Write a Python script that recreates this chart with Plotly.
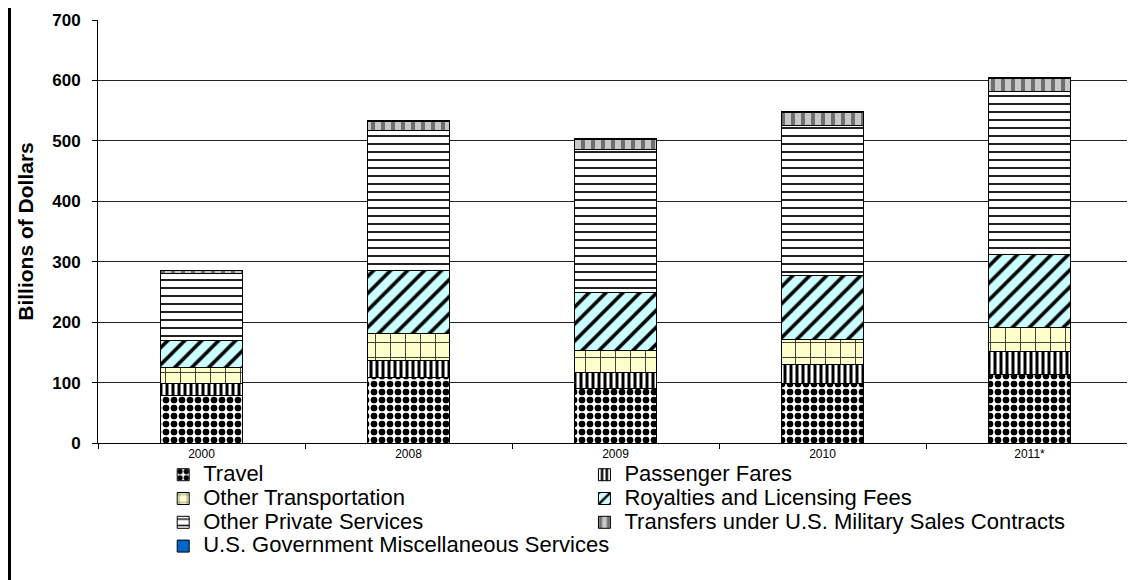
import plotly.graph_objects as go

years = ['2000', '2008', '2009', '2010', '2011*']

travel = [79, 108, 90, 99, 113]
passenger_fares = [20, 28, 26, 31, 38]
other_transport = [26, 46, 37, 42, 40]
royalties = [44, 103, 96, 105, 121]
other_private = [112, 232, 236, 249, 269]
military = [4, 15, 18, 21, 23]
govt_misc = [1, 1, 1, 1, 1]

# name, values, pattern, legend column
series = [
    ('Travel', travel, dict(shape='.', bgcolor='white', fgcolor='black', size=8, solidity=0.55), 'legend'),
    ('Passenger Fares', passenger_fares, dict(shape='|', bgcolor='white', fgcolor='black', size=6, solidity=0.5), 'legend2'),
    ('Other Transportation', other_transport, dict(shape='+', bgcolor='#FFFFCC', fgcolor='#333333', size=15, solidity=0.12), 'legend'),
    ('Royalties and Licensing Fees', royalties, dict(shape='/', bgcolor='#CCFFFF', fgcolor='black', size=12, solidity=0.3), 'legend2'),
    ('Other Private Services', other_private, dict(shape='-', bgcolor='white', fgcolor='#222222', size=8, solidity=0.25), 'legend'),
    ('Transfers under U.S. Military Sales Contracts', military, dict(shape='|', bgcolor='#C8C8C8', fgcolor='#6E6E6E', size=10, solidity=0.4), 'legend2'),
    ('U.S. Government Miscellaneous Services', govt_misc, dict(shape='', bgcolor='#0066CC', fgcolor='#0066CC'), 'legend'),
]

fig = go.Figure()
for name, vals, pat, leg in series:
    pat['fgopacity'] = 1
    fig.add_trace(go.Bar(
        x=years,
        y=vals,
        name="<span style='font-size:22px'>" + name + "</span>",
        legend=leg,
        marker=dict(color=pat['bgcolor'], pattern=pat,
                    line=dict(color='black', width=1)),
    ))

legend_style = dict(
    orientation='v',
    y=-0.035, yanchor='top',
    xanchor='left',
    font=dict(size=16),
    traceorder='normal',
    bgcolor='rgba(0,0,0,0)',
)

fig.update_layout(
    barmode='stack',
    bargap=0.6,
    width=1127,
    height=572,
    margin=dict(l=90, r=2, t=12, b=137),
    plot_bgcolor='white',
    paper_bgcolor='white',
    font=dict(family='Arial, Liberation Sans, sans-serif', color='black'),
    legend=dict(x=0.063, **legend_style),
    legend2=dict(x=0.470, **legend_style),
    xaxis=dict(
        automargin=False,
        showline=True, linecolor='black', linewidth=1,
        ticks='outside', tickson='boundaries', ticklen=5, tickcolor='black',
        tickfont=dict(size=12),
    ),
    yaxis=dict(
        automargin=False,
        range=[0, 700], dtick=100,
        showline=True, linecolor='black', linewidth=1,
        ticks='outside', ticklen=5, tickcolor='black',
        ticklabelstandoff=8,
        showgrid=True, gridcolor='#222222', gridwidth=1,
        tickfont=dict(size=17, weight='bold'),
        title=dict(text='<b>Billions of Dollars</b>', font=dict(size=21), standoff=12),
    ),
)

# thick frame line on the left edge
fig.add_shape(type='line', xref='paper', yref='paper',
              x0=-0.0855, x1=-0.0855, y0=-0.33, y1=1.05,
              line=dict(color='black', width=3))

fig.write_html("out.html")
